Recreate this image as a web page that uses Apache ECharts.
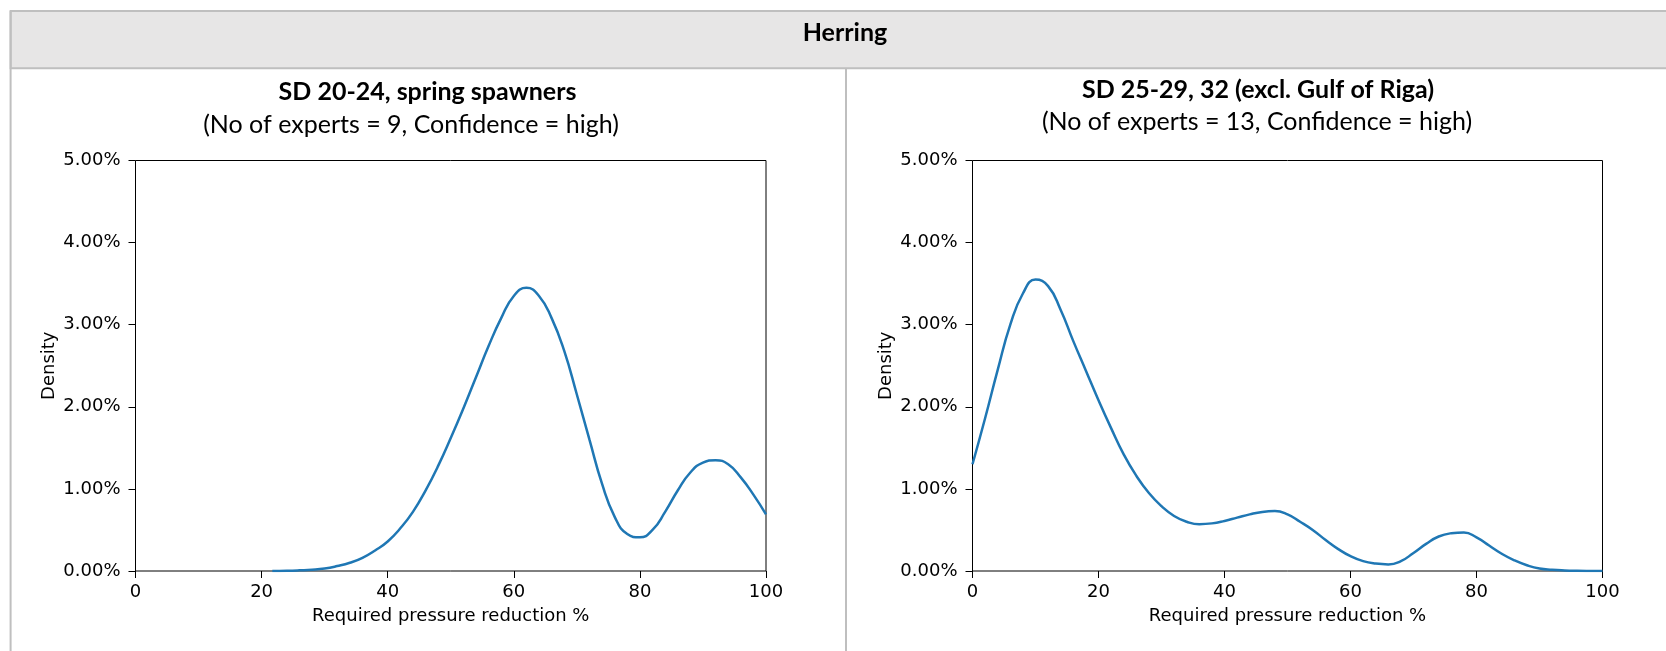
<!DOCTYPE html>
<html>
<head>
<meta charset="utf-8">
<script src="https://cdn.jsdelivr.net/npm/echarts@6/dist/echarts.min.js"></script>
<style>
  html, body { margin: 0; padding: 0; background: #fff; }
  #main { width: 1666px; height: 651px; }
</style>
</head>
<body>
<div id="main"></div>
<script>
// density curves: [reduction %, density %]
var herring2024 = [
    [21.7, 0], [24, 0.003], [26, 0.008], [28, 0.015], [30, 0.03], [32, 0.06], [34, 0.1],
    [36, 0.16], [38, 0.25], [40, 0.36], [42, 0.52], [44, 0.72], [46, 0.98], [48, 1.28],
    [50, 1.62], [52, 1.98], [54, 2.36], [56, 2.74], [58, 3.08], [60, 3.35], [62, 3.45],
    [64, 3.35], [66, 3.08], [68, 2.68], [70, 2.15], [72, 1.6], [74, 1.06], [76, 0.66],
    [78, 0.45], [80, 0.41], [82, 0.5], [84, 0.72], [86, 0.98], [88, 1.2], [90, 1.32],
    [92, 1.35], [94, 1.3], [96, 1.14], [98, 0.93], [100, 0.69]
];
var herring2529 = [
    [0, 1.3], [2, 1.86], [4, 2.45], [6, 3.0], [8, 3.38], [10, 3.55], [12, 3.47], [14, 3.18],
    [16, 2.8], [18, 2.44], [20, 2.08], [22, 1.74], [24, 1.42], [26, 1.16], [28, 0.95],
    [30, 0.79], [32, 0.67], [34, 0.6], [36, 0.57], [38, 0.58], [40, 0.61], [42, 0.65],
    [44, 0.69], [46, 0.72], [48, 0.73], [50, 0.69], [52, 0.6], [54, 0.5], [56, 0.38],
    [58, 0.27], [60, 0.18], [62, 0.12], [64, 0.09], [66, 0.08], [68, 0.12], [70, 0.22],
    [72, 0.33], [74, 0.42], [76, 0.46], [78, 0.47], [80, 0.41], [82, 0.31], [84, 0.21],
    [86, 0.13], [88, 0.07], [90, 0.03], [92, 0.015], [94, 0.007], [96, 0.003], [98, 0.001],
    [100, 0]
];
var tableTitle = 'Herring';
var panelTitles = ['SD 20-24, spring spawners', 'SD 25-29, 32 (excl. Gulf of Riga)'];
var panelNotes = ['(No of experts = 9, Confidence = high)', '(No of experts = 13, Confidence = high)'];
var xName = 'Required pressure reduction %';
var yName = 'Density';

var myChart = echarts.init(document.getElementById('main'));

var tickFont = 'DejaVu Sans';
var capFont = 'Lato';

function xAxisFor(idx) {
    return {
        gridIndex: idx,
        type: 'value',
        min: 0,
        max: 100,
        interval: 20,
        name: xName,
        nameLocation: 'middle',
        nameGap: 36,
        nameTextStyle: { fontFamily: tickFont, fontSize: 18, color: '#000' },
        axisLine: { show: false },
        axisTick: { show: true, length: 7, lineStyle: { color: '#000', width: 1 } },
        axisLabel: { margin: 12, fontFamily: tickFont, fontSize: 18, color: '#000' },
        splitLine: { show: false }
    };
}

function yAxisFor(idx) {
    return {
        gridIndex: idx,
        type: 'value',
        min: 0,
        max: 5,
        interval: 1,
        name: yName,
        nameLocation: 'middle',
        nameGap: 77,
        nameTextStyle: { fontFamily: tickFont, fontSize: 18, color: '#000' },
        axisLine: { show: false },
        axisTick: { show: true, length: 7, lineStyle: { color: '#000', width: 1 } },
        axisLabel: {
            margin: 15,
            fontFamily: tickFont,
            fontSize: 18,
            color: '#000',
            formatter: function (v) { return v.toFixed(2) + '%'; }
        },
        splitLine: { show: false }
    };
}

function textEl(txt, x, y, size, bold) {
    return {
        type: 'text',
        x: x,
        y: y,
        style: {
            text: txt,
            font: (bold ? 'bold ' : '') + size + 'px ' + capFont,
            fill: '#000',
            textAlign: 'center',
            textVerticalAlign: 'middle'
        }
    };
}

option = {
    animation: false,
    grid: [
        { left: 135.5, top: 160.5, width: 630.5, height: 410.5, show: true, borderColor: '#000', borderWidth: 1 },
        { left: 972.5, top: 160.5, width: 630, height: 410.5, show: true, borderColor: '#000', borderWidth: 1 }
    ],
    xAxis: [xAxisFor(0), xAxisFor(1)],
    yAxis: [yAxisFor(0), yAxisFor(1)],
    graphic: [
        // table frame
        { type: 'rect', shape: { x: 10.6, y: 11, width: 1670, height: 57.3 },
          style: { fill: '#e7e6e6', stroke: '#bfbfbf', lineWidth: 2 }, z: -10 },
        { type: 'line', shape: { x1: 10.6, y1: 11, x2: 10.6, y2: 660 },
          style: { stroke: '#bfbfbf', lineWidth: 2 }, z: -10 },
        { type: 'line', shape: { x1: 846, y1: 68, x2: 846, y2: 660 },
          style: { stroke: '#bfbfbf', lineWidth: 2 }, z: -10 },
        textEl(tableTitle, 845, 33, 25, true),
        textEl(panelTitles[0], 427.5, 92, 25, true),
        textEl(panelNotes[0], 411, 125, 25, false),
        textEl(panelTitles[1], 1258, 90, 25, true),
        textEl(panelNotes[1], 1257, 122, 25, false)
    ],
    series: [
        {
            type: 'line',
            xAxisIndex: 0,
            yAxisIndex: 0,
            data: herring2024,
            smooth: 0.5,
            showSymbol: false,
            lineStyle: { color: '#1f77b4', width: 2.5 }
        },
        {
            type: 'line',
            xAxisIndex: 1,
            yAxisIndex: 1,
            data: herring2529,
            smooth: 0.5,
            showSymbol: false,
            lineStyle: { color: '#1f77b4', width: 2.5 }
        }
    ]
};
myChart.setOption(option);
</script>
</body>
</html>
